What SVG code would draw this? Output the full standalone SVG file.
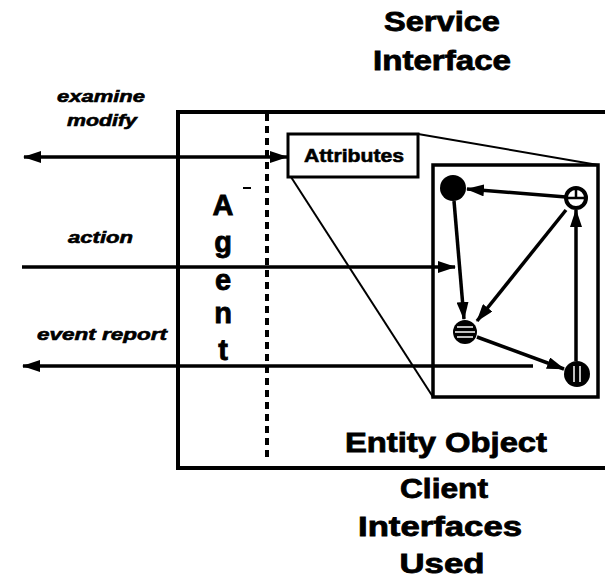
<svg xmlns="http://www.w3.org/2000/svg" width="605" height="579" viewBox="0 0 605 579">
  <style>
    .title { font-family: "Liberation Sans", Arial, sans-serif; font-weight: bold; fill: #000; stroke: #000; stroke-width: 0.8; }
    .big { font-size: 27px; text-anchor: middle; }
    .agent { font-size: 29px; text-anchor: middle; }
    .lbl { font-family: "Liberation Sans", Arial, sans-serif; font-weight: bold; font-style: italic; font-size: 17px; fill: #000; stroke: #000; stroke-width: 0.6; }
    .attr { font-family: "Liberation Sans", Arial, sans-serif; font-weight: bold; font-size: 19px; fill: #000; stroke: #000; stroke-width: 0.6; text-anchor: middle; }
    .edge { stroke: #000; stroke-width: 3.5; fill: none; }
    .thin { stroke: #000; stroke-width: 2; fill: none; }
    .box { stroke: #000; fill: none; }
  </style>
  <defs>
    <marker id="arrow" viewBox="0 0 18 12" refX="17" refY="6" markerWidth="18" markerHeight="12" markerUnits="userSpaceOnUse" orient="auto-start-reverse">
      <path d="M0,0 L18,6 L0,12 z" fill="#000"/>
    </marker>
  </defs>

  <rect width="605" height="579" fill="#fff"/>

  <!-- interface titles -->
  <text class="title big" x="442" y="31" textLength="116" lengthAdjust="spacingAndGlyphs">Service</text>
  <text class="title big" x="442" y="70" textLength="138" lengthAdjust="spacingAndGlyphs">Interface</text>
  <text class="title big" x="444" y="498" textLength="88" lengthAdjust="spacingAndGlyphs">Client</text>
  <text class="title big" x="440" y="536" textLength="164" lengthAdjust="spacingAndGlyphs">Interfaces</text>
  <text class="title big" x="442" y="573" textLength="85" lengthAdjust="spacingAndGlyphs">Used</text>

  <!-- operation labels -->
  <text class="lbl" x="57" y="102" textLength="88" lengthAdjust="spacingAndGlyphs">examine</text>
  <text class="lbl" x="67" y="126" textLength="70" lengthAdjust="spacingAndGlyphs">modify</text>
  <text class="lbl" x="68" y="243" textLength="65" lengthAdjust="spacingAndGlyphs">action</text>
  <text class="lbl" x="37" y="340" textLength="130" lengthAdjust="spacingAndGlyphs">event report</text>

  <!-- entity object outer frame -->
  <g id="entity-object">
    <rect class="box" x="178" y="112" width="440" height="356" stroke-width="4"/>
    <text class="title" x="446" y="452" font-size="28" text-anchor="middle" textLength="202" lengthAdjust="spacingAndGlyphs">Entity Object</text>
  </g>

  <!-- agent boundary -->
  <g id="agent">
    <line x1="267" y1="114" x2="267" y2="462" stroke="#000" stroke-width="4" stroke-dasharray="7 5"/>
    <text class="title agent" x="223" y="215">A</text>
    <text class="title agent" x="223" y="252">g</text>
    <text class="title agent" x="223" y="290">e</text>
    <text class="title agent" x="223" y="323">n</text>
    <text class="title agent" x="223" y="360">t</text>
    <line x1="243" y1="188" x2="251" y2="188" stroke="#000" stroke-width="2"/>
  </g>

  <!-- attributes box -->
  <g id="attributes">
    <rect class="box" x="288" y="134" width="130" height="43" stroke-width="3"/>
    <text class="attr" x="354" y="162" textLength="100" lengthAdjust="spacingAndGlyphs">Attributes</text>
  </g>

  <!-- expanded attribute view -->
  <g id="attribute-view">
    <rect class="box" x="433" y="165" width="165" height="232" stroke-width="3.5"/>
  </g>

  <!-- attribute nodes -->
  <g id="node-solid">
    <circle cx="453" cy="188" r="13" fill="#000"/>
  </g>
  <g id="node-split">
    <circle cx="576" cy="198" r="10" fill="#fff" stroke="#000" stroke-width="4"/>
    <line x1="567" y1="198" x2="585" y2="198" stroke="#000" stroke-width="2.5"/>
    <line x1="576" y1="189" x2="576" y2="198" stroke="#000" stroke-width="2.5"/>
  </g>
  <g id="node-striped">
    <circle cx="465" cy="332" r="12" fill="#000"/>
    <line x1="457" y1="327" x2="473" y2="327" stroke="#fff" stroke-width="1.5"/>
    <line x1="455" y1="332" x2="475" y2="332" stroke="#fff" stroke-width="1.5"/>
    <line x1="457" y1="337" x2="473" y2="337" stroke="#fff" stroke-width="1.5"/>
  </g>
  <g id="node-barred">
    <circle cx="577" cy="374" r="13" fill="#000"/>
    <line x1="574" y1="366" x2="574" y2="382" stroke="#fff" stroke-width="1.5"/>
    <line x1="580" y1="366" x2="580" y2="382" stroke="#fff" stroke-width="1.5"/>
  </g>

  <!-- connectors -->
  <g id="connectors">
    <line class="thin" x1="418" y1="134" x2="598" y2="165"/>
    <line class="thin" x1="291" y1="177" x2="433" y2="397"/>

    <line class="edge" x1="24" y1="157" x2="287" y2="157" marker-start="url(#arrow)" marker-end="url(#arrow)"/>
    <line class="edge" x1="22" y1="267" x2="455" y2="267" marker-end="url(#arrow)"/>
    <line class="edge" x1="533" y1="366" x2="23" y2="366" marker-end="url(#arrow)"/>

    <line class="edge" x1="566" y1="197" x2="467" y2="189" marker-end="url(#arrow)"/>
    <line class="edge" x1="454" y1="201" x2="464" y2="319" marker-end="url(#arrow)"/>
    <line class="edge" x1="566" y1="210" x2="477" y2="321" marker-end="url(#arrow)"/>
    <line class="edge" x1="477" y1="337" x2="564" y2="369" marker-end="url(#arrow)"/>
    <line class="edge" x1="576" y1="361" x2="576" y2="210" marker-end="url(#arrow)"/>
  </g>
</svg>
